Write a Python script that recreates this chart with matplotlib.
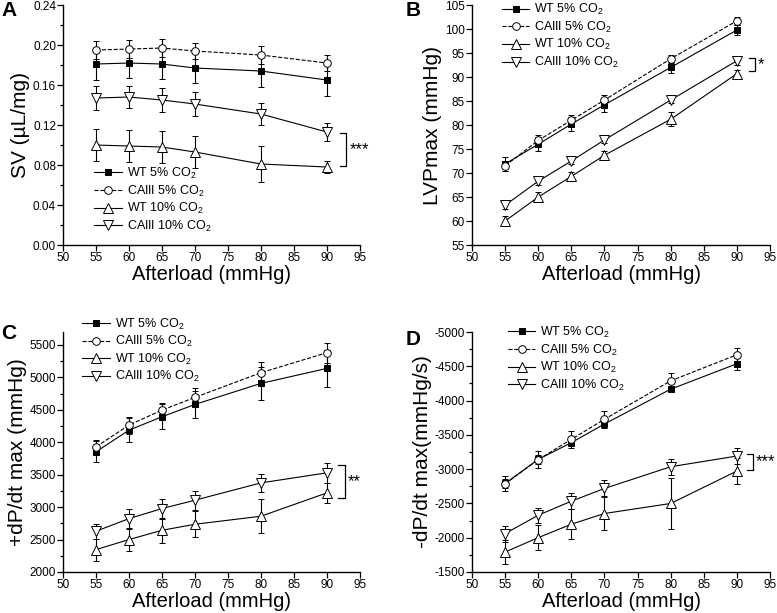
import matplotlib.pyplot as plt
import numpy as np

plt.rcParams['font.family'] = ['Liberation Sans', 'DejaVu Sans']
plt.rcParams['mathtext.default'] = 'regular'

afterload = [55, 60, 65, 70, 80, 90]
labels = ['WT 5% CO$_2$', 'CAIII 5% CO$_2$', 'WT 10% CO$_2$', 'CAIII 10% CO$_2$']

# A: stroke volume
sv_wt5 = [0.181, 0.182, 0.181, 0.177, 0.174, 0.165]
sv_wt5_err = [0.016, 0.015, 0.015, 0.015, 0.016, 0.016]
sv_ca5 = [0.195, 0.196, 0.197, 0.194, 0.190, 0.182]
sv_ca5_err = [0.009, 0.009, 0.009, 0.008, 0.009, 0.008]
sv_wt10 = [0.100, 0.099, 0.098, 0.093, 0.081, 0.078]
sv_wt10_err = [0.016, 0.016, 0.016, 0.016, 0.018, 0.006]
sv_ca10 = [0.147, 0.148, 0.145, 0.141, 0.131, 0.113]
sv_ca10_err = [0.012, 0.011, 0.012, 0.012, 0.011, 0.009]

# B: LVPmax
lvp_wt5 = [71.9, 76.0, 80.2, 84.2, 92.0, 99.8]
lvp_wt5_err = [1.5, 1.5, 1.5, 1.5, 1.2, 1.0]
lvp_ca5 = [71.5, 76.8, 81.0, 85.2, 93.8, 101.7]
lvp_ca5_err = [1.0, 1.2, 1.0, 1.0, 0.8, 0.8]
lvp_wt10 = [60.0, 65.0, 69.3, 73.7, 81.2, 90.7]
lvp_wt10_err = [1.0, 1.0, 1.0, 0.9, 1.5, 0.8]
lvp_ca10 = [63.3, 68.3, 72.5, 76.9, 85.2, 93.4]
lvp_ca10_err = [0.8, 0.8, 0.7, 0.7, 0.7, 0.8]

# C: +dP/dt max
dpp_wt5 = [3853, 4187, 4393, 4584, 4908, 5139]
dpp_wt5_err = [160, 180, 190, 210, 250, 290]
dpp_ca5 = [3930, 4265, 4496, 4692, 5073, 5381]
dpp_ca5_err = [100, 130, 113, 140, 160, 155]
dpp_wt10 = [2345, 2500, 2643, 2736, 2860, 3220]
dpp_wt10_err = [170, 180, 190, 200, 260, 150]
dpp_ca10 = [2628, 2823, 2978, 3107, 3374, 3529]
dpp_ca10_err = [118, 154, 154, 144, 144, 154]

# D: -dP/dt max
dpm_wt5 = [-2791, -3142, -3386, -3659, -4166, -4537]
dpm_wt5_err = [60, 60, 40, 30, 30, 90]
dpm_ca5 = [-2785, -3140, -3435, -3727, -4288, -4668]
dpm_ca5_err = [110, 130, 125, 120, 115, 95]
dpm_wt10 = [-1792, -2001, -2197, -2353, -2499, -2972]
dpm_wt10_err = [170, 185, 215, 234, 373, 190]
dpm_ca10 = [-2060, -2328, -2533, -2718, -3035, -3191]
dpm_ca10_err = [117, 112, 112, 117, 117, 122]

styles = [
    dict(marker='s', mfc='black', ms=5, ls='-'),
    dict(marker='o', mfc='white', ms=5.5, ls='--'),
    dict(marker='^', mfc='white', ms=6.5, ls='-'),
    dict(marker='v', mfc='white', ms=6.5, ls='-'),
]

fig = plt.figure(figsize=(7.77, 6.13), dpi=100)


def panel(rect, series, ylim, yticks, yminor, ylabel, letter, letter_xy,
          leg_anchor, bracket, stars, fmt=None):
    ax = fig.add_axes(rect)
    handles = []
    for (vals, errs), st, lab in zip(series, styles, labels):
        cont = ax.errorbar(afterload, vals, yerr=errs, color='black', lw=0.8,
                           mec='black', mew=0.7, elinewidth=0.8, capsize=2,
                           capthick=0.8, label=lab, **st)
        handles.append(cont[0])
    ax.set_xlim(50, 95)
    ax.set_xticks(np.arange(50, 96, 5))
    ax.set_ylim(*ylim)
    ax.set_yticks(yticks)
    if yminor is not None:
        ax.set_yticks(yminor, minor=True)
    if fmt:
        ax.set_yticklabels([fmt(v) for v in yticks])
    for s in ['top', 'right']:
        ax.spines[s].set_visible(False)
    for s in ['left', 'bottom']:
        ax.spines[s].set_linewidth(1.0)
    ax.tick_params(labelsize=8.5, length=4, width=0.9, pad=1)
    ax.tick_params(which='minor', length=2.5, width=0.9)
    ax.set_xlabel('Afterload (mmHg)', fontsize=14.5, labelpad=1)
    ax.set_ylabel(ylabel, fontsize=15, labelpad=2)
    ax.legend(handles, labels, loc='upper left', bbox_to_anchor=leg_anchor,
              frameon=False, fontsize=9, handlelength=2.2, handletextpad=0.4,
              labelspacing=0.2, borderpad=0, borderaxespad=0)
    # significance bracket
    x0, x1, ya, yb = bracket
    ax.plot([x0, x1, x1, x0], [ya, ya, yb, yb], color='black', lw=0.9,
            clip_on=False)
    ax.text(x1 + 0.5, (ya + yb) / 2, stars, fontsize=12, va='center',
            ha='left', clip_on=False)
    fig.text(letter_xy[0], letter_xy[1], letter, fontsize=15,
             fontweight='bold', va='top', ha='left')
    return ax


panel([0.0811, 0.6003, 0.3822, 0.3915],
      [(sv_wt5, sv_wt5_err), (sv_ca5, sv_ca5_err), (sv_wt10, sv_wt10_err), (sv_ca10, sv_ca10_err)],
      (0, 0.24), np.arange(0, 0.241, 0.04), np.arange(0.02, 0.24, 0.04),
      'SV (µL/mg)', 'A', (0.002, 0.998), (0.105, 0.33),
      (92.0, 92.9, 0.112, 0.079), '***', fmt=lambda v: f'{v:.2f}')

panel([0.6075, 0.6003, 0.3835, 0.3915],
      [(lvp_wt5, lvp_wt5_err), (lvp_ca5, lvp_ca5_err), (lvp_wt10, lvp_wt10_err), (lvp_ca10, lvp_ca10_err)],
      (55, 105), np.arange(55, 106, 5), None,
      'LVPmax (mmHg)', 'B', (0.522, 0.998), (0.10, 1.012),
      (91.8, 92.7, 93.9, 91.2), '*', fmt=lambda v: f'{v:.0f}')

panel([0.0811, 0.0669, 0.3822, 0.3915],
      [(dpp_wt5, dpp_wt5_err), (dpp_ca5, dpp_ca5_err), (dpp_wt10, dpp_wt10_err), (dpp_ca10, dpp_ca10_err)],
      (2000, 5700), np.arange(2000, 5501, 500), np.arange(2250, 5700, 500),
      '+dP/dt max (mmHg)', 'C', (0.002, 0.472), (0.065, 1.065),
      (91.7, 92.7, 3650, 3140), '**', fmt=lambda v: f'{v:.0f}')

panel([0.6075, 0.0669, 0.3835, 0.3915],
      [(dpm_wt5, dpm_wt5_err), (dpm_ca5, dpm_ca5_err), (dpm_wt10, dpm_wt10_err), (dpm_ca10, dpm_ca10_err)],
      (-1500, -5000), np.arange(-5000, -1499, 500), np.arange(-4750, -1500, 500),
      '-dP/dt max(mmHg/s)', 'D', (0.522, 0.462), (0.12, 1.03),
      (91.6, 92.4, -3221, -2987), '***', fmt=lambda v: f'{v:.0f}')

fig.savefig('out.png', dpi=100)
